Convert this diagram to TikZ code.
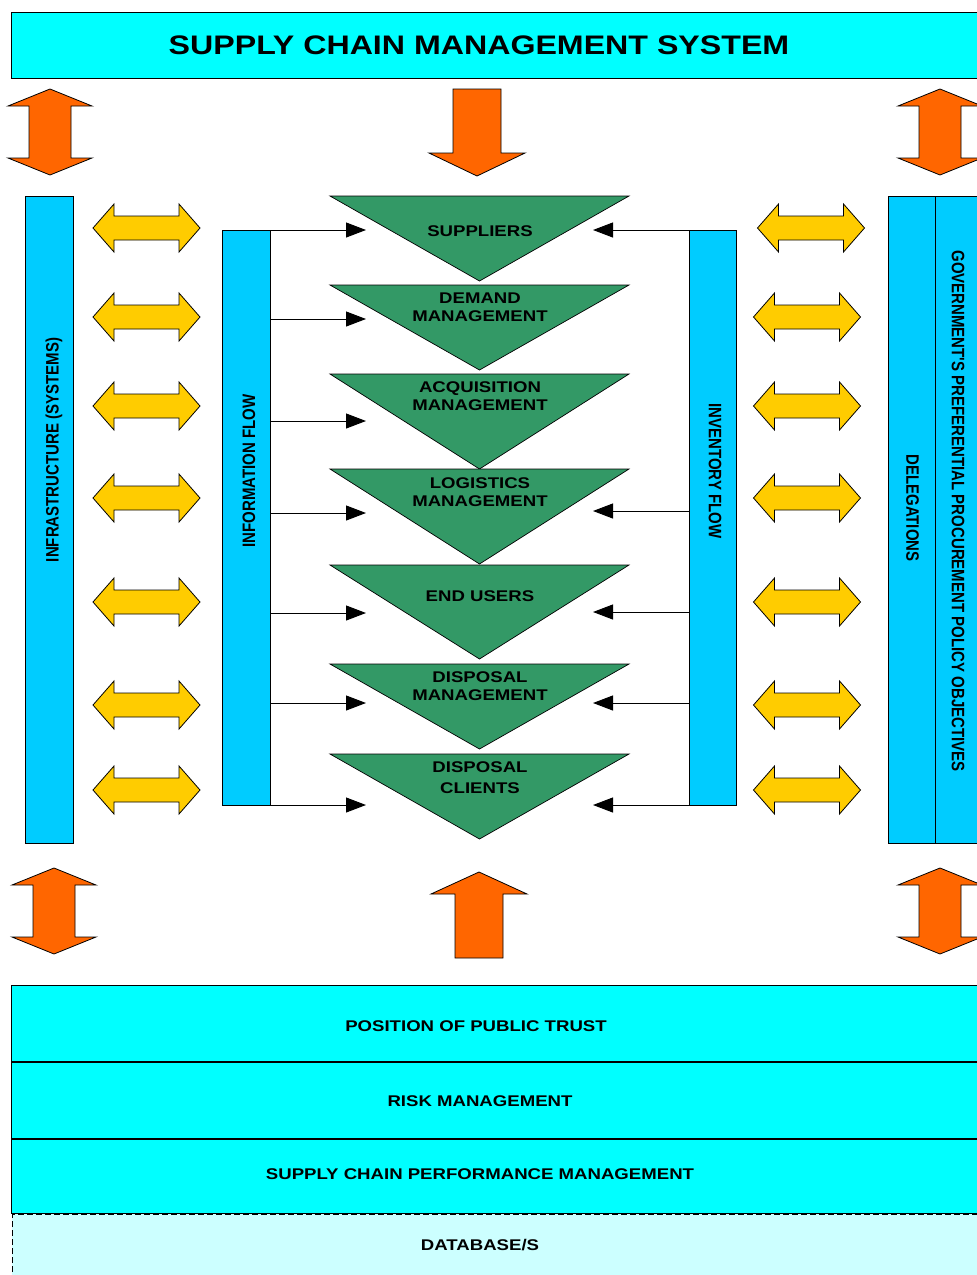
\documentclass[tikz,border=0pt]{standalone}
\usepackage{fontspec}
\setmainfont{Liberation Sans}[FakeStretch=1.2]
\newfontfamily\vfont{Liberation Sans}
\usetikzlibrary{arrows.meta,fit}
\definecolor{cyanbox}{HTML}{00FFFF}
\definecolor{barblue}{HTML}{00CCFF}
\definecolor{orng}{HTML}{FF6600}
\definecolor{yell}{HTML}{FFCC00}
\definecolor{tgreen}{HTML}{339966}
\definecolor{dbcyan}{HTML}{CCFFFF}
\begin{document}
\begin{tikzpicture}[x=1pt,y=-1pt,
 box/.style={draw=black, line width=0.9pt, fill=cyanbox},
 bar/.style={draw=black, line width=0.9pt, fill=barblue, inner sep=0pt},
 tri/.style={draw=black, line width=0.7pt, fill=tgreen},
 oarr/.style={draw=black, line width=0.8pt, fill=orng},
 yarr/.style={draw=black, line width=0.8pt, fill=yell},
 lbl/.style={font=\bfseries\fontsize{15.5}{18}\selectfont, align=center, inner sep=0pt},
 vlbl/.style={font=\vfont\bfseries\fontsize{15}{18}\selectfont, inner sep=0pt},
 flow/.style={-{Triangle[length=20pt,width=15pt]}, line width=1pt},
 vdbl/.pic={\path[oarr] (0,-43) -- (42,-26) -- (21,-26) -- (21,26) -- (42,26) -- (0,43) -- (-42,26) -- (-21,26) -- (-21,-26) -- (-42,-26) -- cycle;},
 hdbl/.pic={\path[yarr] (-53.5,0) -- (-32.5,-24) -- (-32.5,-12) -- (32.5,-12) -- (32.5,-24) -- (53.5,0) -- (32.5,24) -- (32.5,12) -- (-32.5,12) -- (-32.5,24) -- cycle;}
]
\clip (0,0) rectangle (977,1275);
\fill[white] (0,0) rectangle (977,1275);

% title
\draw[box] (11,12) rectangle (990,78);
\node[font=\bfseries\fontsize{26.8}{30}\selectfont, inner sep=0pt] (title) at (479,45) {SUPPLY CHAIN MANAGEMENT SYSTEM};

% orange arrows
\pic at (50,132) {vdbl};
\pic at (940,132) {vdbl};
\pic at (54,911) {vdbl};
\pic at (940,911) {vdbl};
\path[oarr] (453,89) -- (501,89) -- (501,153) -- (525,153) -- (477,176) -- (429,153) -- (453,153) -- cycle;
\path[oarr] (455,958) -- (503,958) -- (503,894) -- (527,894) -- (479,872) -- (431,894) -- (455,894) -- cycle;

% bars
\node[bar, fit={(25,196) (73,843)}] (infra) {};
\node[bar, fit={(222,230) (270,805)}] (info) {};
\node[bar, fit={(689,230) (736,805)}] (inv) {};
\node[bar, fit={(888,196) (935,843)}] (deleg) {};
\node[bar, fit={(935,196) (990,843)}] (gov) {};

\node[vlbl, rotate=90] (infratxt) at (54,450) {\scalebox{1}[1.2]{INFRASTRUCTURE (SYSTEMS)}};
\node[vlbl, rotate=90] (infotxt) at (249,471) {\scalebox{1}[1.2]{INFORMATION FLOW}};
\node[vlbl, rotate=-90] (invtxt) at (715,471) {\scalebox{1}[1.2]{INVENTORY FLOW}};
\node[vlbl, rotate=-90] (delegtxt) at (912.5,508) {\scalebox{1}[1.2]{DELEGATIONS}};
\node[vlbl, rotate=-90] (govtxt) at (958,511) {\scalebox{1}[1.2]{GOVERNMENT'S PREFERENTIAL PROCUREMENT POLICY OBJECTIVES}};

% yellow arrows
\foreach \yy in {228,317,406,498,602,705,790} {\pic at (146.5,\yy) {hdbl};}
\pic at (811,228) {hdbl};
\foreach \yy in {317,406,498,602,705,790} {\pic at (807,\yy) {hdbl};}

% triangles
\foreach \tp/\ap in {196/281,285/370,374/469,469/564,565/659,664/749,754/839}
  {\path[tri] (330,\tp) -- (629,\tp) -- (479.5,\ap) -- cycle;}
\node[lbl] (sup) at (480,231) {SUPPLIERS};
\node[lbl] (dem) at (480,307) {DEMAND\\MANAGEMENT};
\node[lbl] (acq) at (480,396.5) {ACQUISITION\\MANAGEMENT};
\node[lbl] (log) at (480,492) {LOGISTICS\\MANAGEMENT};
\node[lbl] (end) at (480,596) {END USERS};
\node[lbl] (dis) at (480,686.5) {DISPOSAL\\MANAGEMENT};
\node[lbl, font=\bfseries\fontsize{15.5}{21}\selectfont] (cli) at (480,777.5) {DISPOSAL\\CLIENTS};

% flow connectors
\foreach \n/\yy in {1/230,2/319,3/421,4/513,5/613,6/703,7/805}
  {\coordinate (l\n) at (366,\yy); \draw[flow] (info.east |- l\n) -- (l\n);}
\foreach \n/\yy in {1/230,4/511,5/612,6/703,7/805}
  {\coordinate (r\n) at (593,\yy); \draw[flow] (inv.west |- r\n) -- (r\n);}

% bottom boxes
\draw[box] (11,985) rectangle (990,1061);
\node[lbl] (trust) at (476,1026) {POSITION OF PUBLIC TRUST};
\draw[box] (11,1062) rectangle (990,1138);
\node[lbl] (risk) at (480,1101) {RISK MANAGEMENT};
\draw[box] (11,1139) rectangle (990,1213);
\node[lbl] (scpm) at (480,1174) {SUPPLY CHAIN PERFORMANCE MANAGEMENT};
\fill[dbcyan] (12,1214) rectangle (990,1290);
\draw[dash pattern=on 6pt off 3pt, line width=1.6pt] (12.5,1290) -- (12.5,1214.5) -- (990,1214.5);
\node[lbl] (db) at (480,1245) {DATABASE/S};
\end{tikzpicture}
\end{document}
